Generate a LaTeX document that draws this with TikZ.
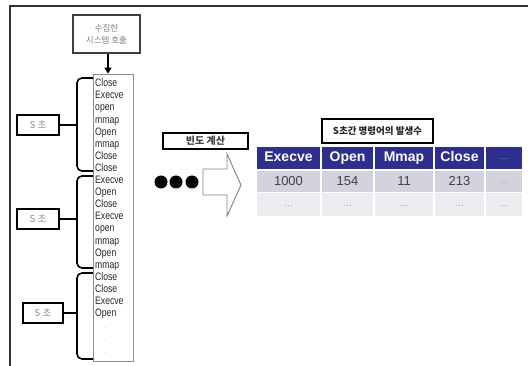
\documentclass[tikz,border=0pt]{standalone}
\usepackage{fontspec}
\setmainfont{Liberation Sans}
\newfontfamily\kr{Noto Sans CJK KR}
\newfontfamily\narrowf[FakeStretch=0.8]{Liberation Sans}
\usetikzlibrary{arrows.meta}
\definecolor{hdr}{HTML}{2E2E8E}
\definecolor{rowa}{HTML}{D3D3DE}
\definecolor{rowb}{HTML}{EBEBF0}
\definecolor{hdrdot}{HTML}{A8A8D0}
\tikzset{
  frame/.style={line width=1.6pt, draw=black!80},
  srcbox/.style={draw=black!75, line width=1.4pt, minimum width=67pt, minimum height=38pt, align=center, text=black!50, inner sep=0pt, font=\kr\fontsize{8.5}{12}\selectfont},
  listbox/.style={draw=black!45, line width=0.8pt, minimum width=40pt, minimum height=287pt, inner sep=0pt},
  item/.style={anchor=west, inner sep=0pt, text height=8pt, text depth=0.5pt, text=black!85, font=\narrowf\fontsize{10.8}{12}\selectfont},
  sbox/.style={draw=black, line width=1.6pt, minimum width=42pt, minimum height=20pt, inner sep=0pt, text=black!45, font=\kr\fontsize{9.5}{11}\selectfont},
  brc/.style={line width=1.6pt, draw=black, rounded corners=5pt},
  stub/.style={line width=1.6pt, draw=black},
  labbox/.style={draw=black, line width=1.6pt, inner sep=0pt, font=\kr\bfseries\fontsize{10}{12}\selectfont, text=black!75},
  cellbase/.style={inner sep=0pt, text height=10pt, text depth=3pt},
  hcell/.style={cellbase, fill=hdr, text=white, font=\bfseries\fontsize{14}{16}\selectfont},
  acell/.style={cellbase, fill=rowa, text=black!75, font=\fontsize{13}{15}\selectfont},
  bcell/.style={cellbase, fill=rowb, text=black!40, font=\fontsize{9}{11}\selectfont},
  bigdot/.style={circle, fill=black, minimum size=13pt, inner sep=0pt},
}
\begin{document}
\begin{tikzpicture}[x=1pt,y=-1pt]
\useasboundingbox (0,0) rectangle (528,366);
\fill[white] (0,0) rectangle (528,366);
% outer frame (cropped)
\draw[frame] (528,6) -- (10,6) -- (10,366);

% source box and arrow
\node[srcbox] (src) at (106.5,34) {수집한\\시스템 호출};
\node[listbox] (list) at (113,217.5) {};
\draw[line width=2.4pt, -{Triangle[length=6pt,width=7pt]}] (src.south -| 108,0) -- (list.north -| 108,0);

% list items
\foreach \t [count=\i from 0] in {Close,Execve,open,mmap,Open,mmap,Close,Close,Execve,Open,Close,Execve,open,mmap,Open,mmap,Close,Close,Execve,Open}
  \node[item] (it\i) at (95,{83+12.1*\i}) {\t};
\foreach \y [count=\j] in {328,340,353}
  \node[inner sep=0pt, text=black!50, font=\fontsize{6}{6}\selectfont] (dot\j) at (106,\y) {.};

% S boxes and braces
\node[sbox] (s1) at (38,125) {S 초};
\node[sbox] (s2) at (38,219) {S 초};
\node[sbox, minimum width=40pt] (s3) at (43,313) {S 초};
\coordinate (b1) at (77,125);
\coordinate (b2) at (77,219);
\coordinate (b3) at (77,313);
\draw[brc] (93,78) -- (77,78) -- (77,171) -- (93,171);
\draw[brc] (93,176) -- (77,176) -- (77,268) -- (93,268);
\draw[brc] (93,273) -- (77,273) -- (77,359) -- (93,359);
\draw[stub] (s1.east) -- (b1);
\draw[stub] (s2.east) -- (b2);
\draw[stub] (s3.east) -- (b3);

% frequency label, dots, hollow arrow
\node[labbox, minimum width=85pt, minimum height=16pt] (freq) at (205.5,141) {빈도 계산};
\node[bigdot] (d1) at (161,182) {};
\node[bigdot] (d2) at (176,182) {};
\node[bigdot] (d3) at (192,182) {};
\draw[draw=black!50, line width=0.9pt, fill=white, line join=miter]
  (203,169) -- (227,169) -- (227,154) -- (241,185) -- (227,216) -- (227,195) -- (203,195) -- cycle;

% table title
\node[labbox, line width=2pt, minimum width=111pt, minimum height=24pt, font=\kr\bfseries\fontsize{9.5}{11}\selectfont, text=black!85] (ttl) at (377.5,131) {S초간 명령어의 발생수};

% table
\node[hcell, minimum width=63.5pt, minimum height=22pt] (h1) at (288.5,158.5) {Execve};
\node[hcell, minimum width=51.5pt, minimum height=22pt] (h2) at (347.5,158.5) {Open};
\node[hcell, minimum width=58.5pt, minimum height=22pt] (h3) at (404,158.5) {Mmap};
\node[hcell, minimum width=49.5pt, minimum height=22pt] (h4) at (459.5,158.5) {Close};
\node[hcell, minimum width=36.5pt, minimum height=22pt, text=hdrdot, font=\fontsize{9}{11}\selectfont] (h5) at (504,158.5) {···};

\node[acell, minimum width=63.5pt, minimum height=21pt] (a1) at (288.5,182) {1000};
\node[acell, minimum width=51.5pt, minimum height=21pt] (a2) at (347.5,182) {154};
\node[acell, minimum width=58.5pt, minimum height=21pt] (a3) at (404,182) {11};
\node[acell, minimum width=49.5pt, minimum height=21pt] (a4) at (459.5,182) {213};
\node[acell, minimum width=36.5pt, minimum height=21pt, text=black!40, font=\fontsize{9}{11}\selectfont] (a5) at (504,182) {···};

\node[bcell, minimum width=63.5pt, minimum height=23pt] (c1) at (288.5,205) {···};
\node[bcell, minimum width=51.5pt, minimum height=23pt] (c2) at (347.5,205) {···};
\node[bcell, minimum width=58.5pt, minimum height=23pt] (c3) at (404,205) {···};
\node[bcell, minimum width=49.5pt, minimum height=23pt] (c4) at (459.5,205) {···};
\node[bcell, minimum width=36.5pt, minimum height=23pt] (c5) at (504,205) {···};
\end{tikzpicture}
\end{document}
